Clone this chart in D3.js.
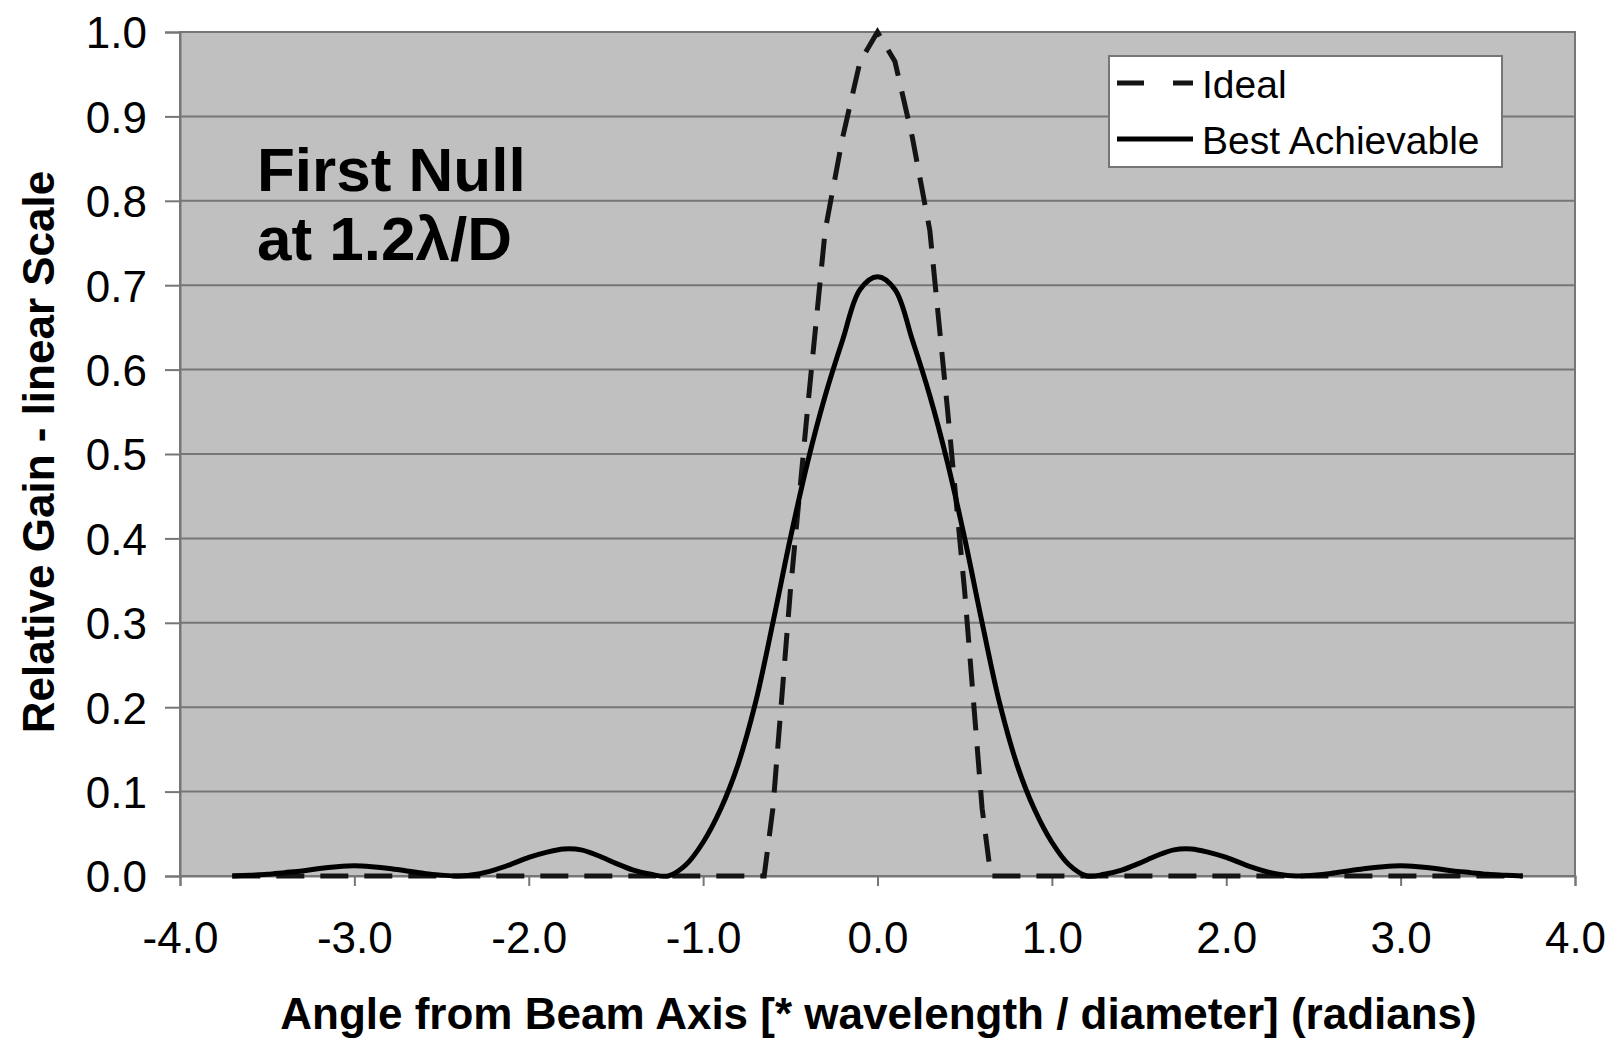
<!DOCTYPE html>
<html>
<head>
<meta charset="utf-8">
<script src="https://cdn.jsdelivr.net/npm/d3@7"></script>
<style>
  html, body { margin: 0; padding: 0; background: #ffffff; }
  svg { display: block; }
  text { font-family: "Liberation Sans", Arial, Helvetica, sans-serif; fill: #000; }
</style>
</head>
<body>
<svg id="chart" width="1610" height="1038"></svg>
<script>
// Angle from beam axis, in units of wavelength / diameter
const angle = [
  -3.7, -3.6, -3.5, -3.4, -3.3, -3.2, -3.1, -3.0, -2.9, -2.8,
  -2.7, -2.6, -2.5, -2.4, -2.3, -2.2, -2.1, -2.0, -1.9, -1.8,
  -1.7, -1.6, -1.5, -1.4, -1.3, -1.2, -1.1, -1.0, -0.9, -0.8,
  -0.7, -0.6, -0.5, -0.4, -0.3, -0.2, -0.1, 0.0, 0.1, 0.2,
  0.3, 0.4, 0.5, 0.6, 0.7, 0.8, 0.9, 1.0, 1.1, 1.2,
  1.3, 1.4, 1.5, 1.6, 1.7, 1.8, 1.9, 2.0, 2.1, 2.2,
  2.3, 2.4, 2.5, 2.6, 2.7, 2.8, 2.9, 3.0, 3.1, 3.2,
  3.3, 3.4, 3.5, 3.6, 3.7
];

// "Best Achievable" relative gain at each angle
const bestGain = [
  0.000, 0.001, 0.002, 0.004, 0.006, 0.009, 0.011, 0.012, 0.011, 0.009,
  0.006, 0.003, 0.001, 0.000, 0.002, 0.007, 0.014, 0.022, 0.028, 0.032,
  0.031, 0.024, 0.015, 0.007, 0.002, 0.000, 0.013, 0.040, 0.079, 0.132,
  0.205, 0.300, 0.400, 0.491, 0.569, 0.635, 0.695, 0.710, 0.695, 0.635,
  0.569, 0.491, 0.400, 0.300, 0.205, 0.132, 0.079, 0.040, 0.013, 0.000,
  0.002, 0.007, 0.015, 0.024, 0.031, 0.032, 0.028, 0.022, 0.014, 0.007,
  0.002, 0.000, 0.001, 0.003, 0.006, 0.009, 0.011, 0.012, 0.011, 0.009,
  0.006, 0.004, 0.002, 0.001, 0.000
];

// "Ideal" pattern: a single main lobe, zero elsewhere
const idealAngle = [-3.7, -0.65, -0.6, -0.5, -0.4, -0.3, -0.2, -0.1, 0.0,
                    0.1, 0.2, 0.3, 0.4, 0.5, 0.6, 0.65, 3.7];
const idealGain  = [0, 0, 0.08, 0.337, 0.556, 0.765, 0.875, 0.965, 1.0,
                    0.965, 0.875, 0.765, 0.556, 0.337, 0.08, 0, 0];

const xTicks = [-4, -3, -2, -1, 0, 1, 2, 3, 4];
const yTicks = [0, 0.1, 0.2, 0.3, 0.4, 0.5, 0.6, 0.7, 0.8, 0.9, 1.0];

const seriesNames = ["Ideal", "Best Achievable"];
const xTitle = "Angle from Beam Axis [* wavelength / diameter] (radians)";
const yTitle = "Relative Gain - linear Scale";
const noteLines = ["First Null", "at 1.2\u03BB/D"];

// ---- layout ----
const plot = { left: 180, right: 1575, top: 32, bottom: 876 };
const gridColor = "#767676";
const fmt = d => d.toFixed(1);   // plain hyphen for negatives

const svg = d3.select("#chart");

const x = d3.scaleLinear().domain([-4, 4]).range([plot.left, plot.right]);
const y = d3.scaleLinear().domain([0, 1]).range([plot.bottom, plot.top]);

// plot area background
svg.append("rect")
  .attr("x", plot.left).attr("y", plot.top)
  .attr("width", plot.right - plot.left).attr("height", plot.bottom - plot.top)
  .attr("fill", "#c0c0c0");

// horizontal gridlines
svg.append("g")
  .selectAll("line")
  .data(yTicks)
  .join("line")
  .attr("x1", plot.left).attr("x2", plot.right)
  .attr("y1", d => y(d)).attr("y2", d => y(d))
  .attr("stroke", gridColor).attr("stroke-width", 2);

// y axis
const yAxis = svg.append("g")
  .attr("transform", `translate(${plot.left},0)`)
  .call(d3.axisLeft(y).tickValues(yTicks).tickFormat(fmt)
        .tickSize(15).tickPadding(18));
yAxis.select(".domain").attr("stroke", gridColor).attr("stroke-width", 2);
yAxis.selectAll(".tick line").attr("stroke", gridColor).attr("stroke-width", 2);
yAxis.selectAll(".tick text")
  .attr("font-size", 44).attr("font-family", "Liberation Sans, Arial, sans-serif")
  .attr("fill", "#000").attr("dy", "0.36em");

// x axis
const xAxis = svg.append("g")
  .attr("transform", `translate(0,${plot.bottom})`)
  .call(d3.axisBottom(x).tickValues(xTicks).tickFormat(fmt)
        .tickSize(10).tickPadding(0));
xAxis.select(".domain").attr("stroke", gridColor).attr("stroke-width", 2);
xAxis.selectAll(".tick line").attr("stroke", gridColor).attr("stroke-width", 2);
xAxis.selectAll(".tick text")
  .attr("font-size", 44).attr("font-family", "Liberation Sans, Arial, sans-serif")
  .attr("fill", "#000").attr("dy", null).attr("y", 77);

// plot area border
svg.append("rect")
  .attr("x", plot.left).attr("y", plot.top)
  .attr("width", plot.right - plot.left).attr("height", plot.bottom - plot.top)
  .attr("fill", "none").attr("stroke", gridColor).attr("stroke-width", 2);

// annotation
const note = svg.append("text")
  .attr("x", 257).attr("y", 191)
  .attr("font-size", 62).attr("font-weight", "bold");
note.selectAll("tspan")
  .data(noteLines)
  .join("tspan")
  .attr("x", 257)
  .attr("dy", (d, i) => i === 0 ? 0 : 69)
  .text(d => d);

// series lines
const idealLine = d3.line()
  .x((d, i) => x(idealAngle[i]))
  .y(d => y(d))
  .curve(d3.curveLinear);

const bestLine = d3.line()
  .x((d, i) => x(angle[i]))
  .y(d => y(d))
  .curve(d3.curveCatmullRom.alpha(0.5));

svg.append("path")
  .attr("d", idealLine(idealGain))
  .attr("fill", "none").attr("stroke", "#141414")
  .attr("stroke-width", 5).attr("stroke-dasharray", "28,16");

svg.append("path")
  .attr("d", bestLine(bestGain))
  .attr("fill", "none").attr("stroke", "#000")
  .attr("stroke-width", 5).attr("stroke-linejoin", "round");

// legend
const legend = svg.append("g");
legend.append("rect")
  .attr("x", 1109).attr("y", 56).attr("width", 393).attr("height", 111)
  .attr("fill", "#ffffff").attr("stroke", gridColor).attr("stroke-width", 2);

const legendRows = [
  { name: seriesNames[0], y: 83, dash: "27,29", color: "#141414" },
  { name: seriesNames[1], y: 139, dash: null, color: "#000" }
];
legendRows.forEach(r => {
  legend.append("line")
    .attr("x1", 1117).attr("x2", 1193).attr("y1", r.y).attr("y2", r.y)
    .attr("stroke", r.color).attr("stroke-width", 5)
    .attr("stroke-dasharray", r.dash);
  legend.append("text")
    .attr("x", 1202).attr("y", r.y + 15)
    .attr("font-size", 39)
    .text(r.name);
});

// axis titles
svg.append("text")
  .attr("x", (plot.left + plot.right) / 2 + 1)
  .attr("y", 1029)
  .attr("text-anchor", "middle")
  .attr("font-size", 44).attr("font-weight", "bold")
  .text(xTitle);

svg.append("text")
  .attr("transform", "translate(54,452) rotate(-90)")
  .attr("text-anchor", "middle")
  .attr("font-size", 44).attr("font-weight", "bold")
  .text(yTitle);
</script>
</body>
</html>
